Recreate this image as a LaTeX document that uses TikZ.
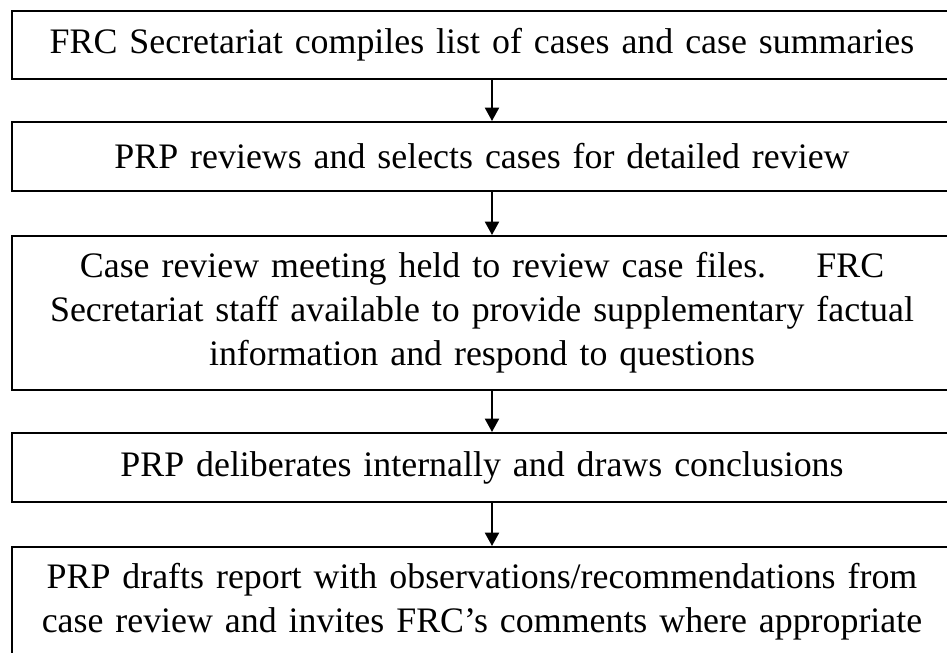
\documentclass[tikz,border=0pt]{standalone}
\usepackage{fontspec}
\setmainfont{Liberation Serif}
\usetikzlibrary{arrows.meta}

\begin{document}
\begin{tikzpicture}[
    x=0.75pt, y=-0.75pt,
    stage/.style={rectangle, draw, line width=1.5pt, minimum width=705.75pt, text width=700pt, align=center, inner sep=0pt, font=\fontsize{26.9}{33}\selectfont},
    arrow/.style={-{Triangle[width=10.5pt,length=10pt]}, line width=1.5pt}
]
\useasboundingbox (0,0) rectangle (947,653);
\clip (0,0) rectangle (947,653);

% Etapes
\node[stage, minimum height=51pt] (compile) at (482,45) {FRC Secretariat compiles list of cases and case summaries};
\node[stage, minimum height=51.75pt] (select) at (482,156.5) {PRP reviews and selects cases for detailed review};
\node[stage, minimum height=115.5pt] (meeting) at (482,313) {Case review meeting held to review case files.\hspace{0.9em} FRC\\Secretariat staff available to provide supplementary factual\\information and respond to questions};
\node[stage, minimum height=51.75pt] (deliberate) at (482,467.5) {PRP deliberates internally and draws conclusions};
\node[stage, minimum height=82.5pt] (report) at (482,602) {PRP drafts report with observations/recommendations from\\case review and invites FRC’s comments where appropriate};

% Fleches
\draw[arrow] ([xshift=7.5pt]compile.south) -- ([xshift=7.5pt]select.north);
\draw[arrow] ([xshift=7.5pt]select.south) -- ([xshift=7.5pt]meeting.north);
\draw[arrow] ([xshift=7.5pt]meeting.south) -- ([xshift=7.5pt]deliberate.north);
\draw[arrow] ([xshift=7.5pt]deliberate.south) -- ([xshift=7.5pt]report.north);

\end{tikzpicture}
\end{document}
